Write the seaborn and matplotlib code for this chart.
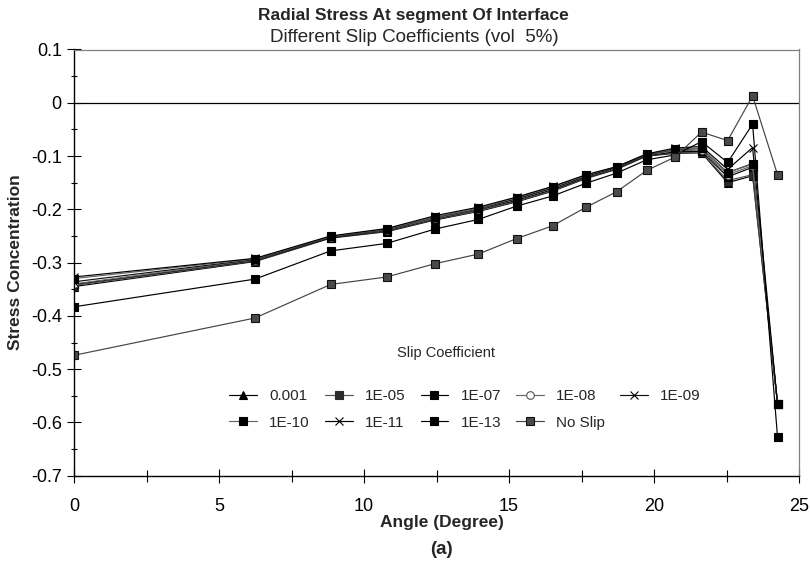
import matplotlib
matplotlib.use("Agg")
import matplotlib.pyplot as plt
import seaborn as sns
from matplotlib.ticker import MultipleLocator, FixedLocator

# Angle along the interface segment (degrees)
angle = [0.0, 6.24, 8.85, 10.78, 12.45, 13.94, 15.26, 16.50, 17.66, 18.71,
         19.75, 20.72, 21.64, 22.54, 23.40, 24.26]

# Radial stress concentration for each slip coefficient
s_0001 = [-0.345, -0.298, -0.254, -0.242, -0.220, -0.204, -0.186, -0.166, -0.142, -0.125,
          -0.100, -0.095, -0.094, -0.150, -0.137, -0.565]
s_1e05 = [-0.343, -0.297, -0.253, -0.241, -0.219, -0.203, -0.185, -0.165, -0.141, -0.124,
          -0.099, -0.094, -0.093, -0.146, -0.135, -0.565]
s_1e07 = [-0.341, -0.296, -0.253, -0.240, -0.218, -0.201, -0.183, -0.163, -0.140, -0.123,
          -0.099, -0.092, -0.091, -0.139, -0.121, -0.565]
s_1e08 = [-0.340, -0.295, -0.252, -0.239, -0.217, -0.200, -0.181, -0.161, -0.139, -0.122,
          -0.098, -0.090, -0.089, -0.135, -0.118, -0.565]
s_1e09 = [-0.336, -0.294, -0.252, -0.238, -0.215, -0.199, -0.180, -0.160, -0.138, -0.121,
          -0.097, -0.088, -0.086, -0.131, -0.114, -0.565]
s_1e10 = [-0.330, -0.293, -0.251, -0.237, -0.214, -0.198, -0.178, -0.158, -0.136, -0.120,
          -0.096, -0.087, -0.085, -0.131, -0.115, -0.565]
s_1e11 = [-0.327, -0.292, -0.250, -0.236, -0.212, -0.196, -0.177, -0.157, -0.135, -0.120,
          -0.096, -0.085, -0.082, -0.125, -0.084, -0.565]
s_1e13 = [-0.383, -0.331, -0.278, -0.264, -0.237, -0.219, -0.194, -0.175, -0.151, -0.132,
          -0.107, -0.098, -0.073, -0.112, -0.040, -0.628]
s_noslip = [-0.474, -0.404, -0.341, -0.327, -0.302, -0.284, -0.255, -0.231, -0.196, -0.167,
            -0.127, -0.102, -0.055, -0.071, 0.013, -0.135]

coefficients = ["0.001", "1E-05", "1E-07", "1E-08", "1E-09",
                "1E-10", "1E-11", "1E-13", "No Slip"]
series = [s_0001, s_1e05, s_1e07, s_1e08, s_1e09, s_1e10, s_1e11, s_1e13, s_noslip]

y_ticks = [0.1, 0.0, -0.1, -0.2, -0.3, -0.4, -0.5, -0.6, -0.7]
y_tick_labels = ["0.1", "0", "-0.1", "-0.2", "-0.3", "-0.4", "-0.5", "-0.6", "-0.7"]
x_ticks = [0, 5, 10, 15, 20, 25]

# line colour, marker, marker face, marker edge
line_styles = {
    "0.001":   ("#000000", "^", "#000000", "#000000"),
    "1E-05":   ("#555555", "s", "#2a2a2a", "#2a2a2a"),
    "1E-07":   ("#000000", "s", "#000000", "#000000"),
    "1E-08":   ("#666666", "o", "#ffffff", "#555555"),
    "1E-09":   ("#111111", "x", "#000000", "#000000"),
    "1E-10":   ("#666666", "s", "#000000", "#000000"),
    "1E-11":   ("#000000", "x", "#000000", "#000000"),
    "1E-13":   ("#000000", "s", "#000000", "#000000"),
    "No Slip": ("#444444", "s", "#4a4a4a", "#111111"),
}

sns.set_theme(style="white")
plt.rcParams["font.family"] = ["Liberation Sans", "DejaVu Sans"]

W, H = 810, 567
fig = plt.figure(figsize=(W / 100, H / 100), dpi=100)
left, right, top, bottom = 74, 799, 49.5, 475.7
ax = fig.add_axes([left / W, 1 - bottom / H, (right - left) / W, (bottom - top) / H])

for name, vals in zip(coefficients, series):
    col, mk, mfc, mec = line_styles[name]
    sns.lineplot(x=angle, y=vals, ax=ax, color=col, marker=mk, markersize=5.5,
                 markerfacecolor=mfc, markeredgecolor=mec, markeredgewidth=0.8,
                 linewidth=0.85, label=name, sort=False, errorbar=None)

ax.axhline(0, color="black", linewidth=0.9, zorder=1)

ax.set_xlim(0, 25)
ax.set_ylim(-0.7, 0.1)
ax.xaxis.set_major_locator(FixedLocator(x_ticks))
ax.xaxis.set_minor_locator(MultipleLocator(2.5))
ax.yaxis.set_major_locator(FixedLocator(y_ticks))
ax.yaxis.set_minor_locator(MultipleLocator(0.05))
ax.set_yticklabels(y_tick_labels)
ax.tick_params(axis="both", which="major", direction="inout", length=9.5, width=0.8,
               color="black", labelsize=13, labelcolor="black")
ax.tick_params(axis="y", which="minor", direction="inout", length=5, width=0.8, color="black")
ax.tick_params(axis="x", which="minor", direction="inout", length=8, width=0.8, color="black")
ax.tick_params(axis="y", which="major", pad=4.0, left=True)
ax.tick_params(axis="x", which="major", pad=11, bottom=True)
ax.tick_params(axis="y", which="minor", left=True)
ax.tick_params(axis="x", which="minor", bottom=True)

for side in ("left", "bottom"):
    ax.spines[side].set_color("black")
    ax.spines[side].set_linewidth(1.0)
for side in ("top", "right"):
    ax.spines[side].set_color("#808080")
    ax.spines[side].set_linewidth(0.9)

ax.set_xlabel("Angle (Degree)", fontsize=12.5, fontweight="bold")
ax.xaxis.set_label_coords((442 - left) / (right - left), (bottom - 523) / (bottom - top))
ax.xaxis.label.set_va("center")
ax.set_ylabel("Stress Concentration", fontsize=12.5, fontweight="bold")
ax.yaxis.set_label_coords((15 - left) / (right - left), 0.5)
ax.yaxis.label.set_va("center")

fig.text(413 / W, 1 - 15.5 / H, "Radial Stress At segment Of Interface",
         ha="center", va="center", fontsize=12.5, fontweight="bold")
fig.text(414 / W, 1 - 37 / H, "Different Slip Coefficients (vol  5%)",
         ha="center", va="center", fontsize=13.5)
fig.text(441 / W, 1 - 549 / H, "(a)", ha="center", va="center",
         fontsize=13.5, fontweight="bold")

# legend: row-major layout in five columns
handles, labels = ax.get_legend_handles_labels()
lookup = dict(zip(labels, handles))
order = ["0.001", "1E-10", "1E-05", "1E-11", "1E-07", "1E-13", "1E-08", "No Slip", "1E-09"]
leg = ax.legend([lookup[k] for k in order], order, ncol=5, frameon=False,
                fontsize=11, handlelength=1.8, handletextpad=0.8, columnspacing=1.0,
                labelspacing=0.8, loc="center",
                bbox_to_anchor=(465 / W, 1 - 409.5 / H), bbox_transform=fig.transFigure,
                borderpad=0, borderaxespad=0)
fig.text(446 / W, 1 - 353 / H, "Slip Coefficient", ha="center", va="center", fontsize=10.5)

fig.savefig("out.png", dpi=100, facecolor="white")
